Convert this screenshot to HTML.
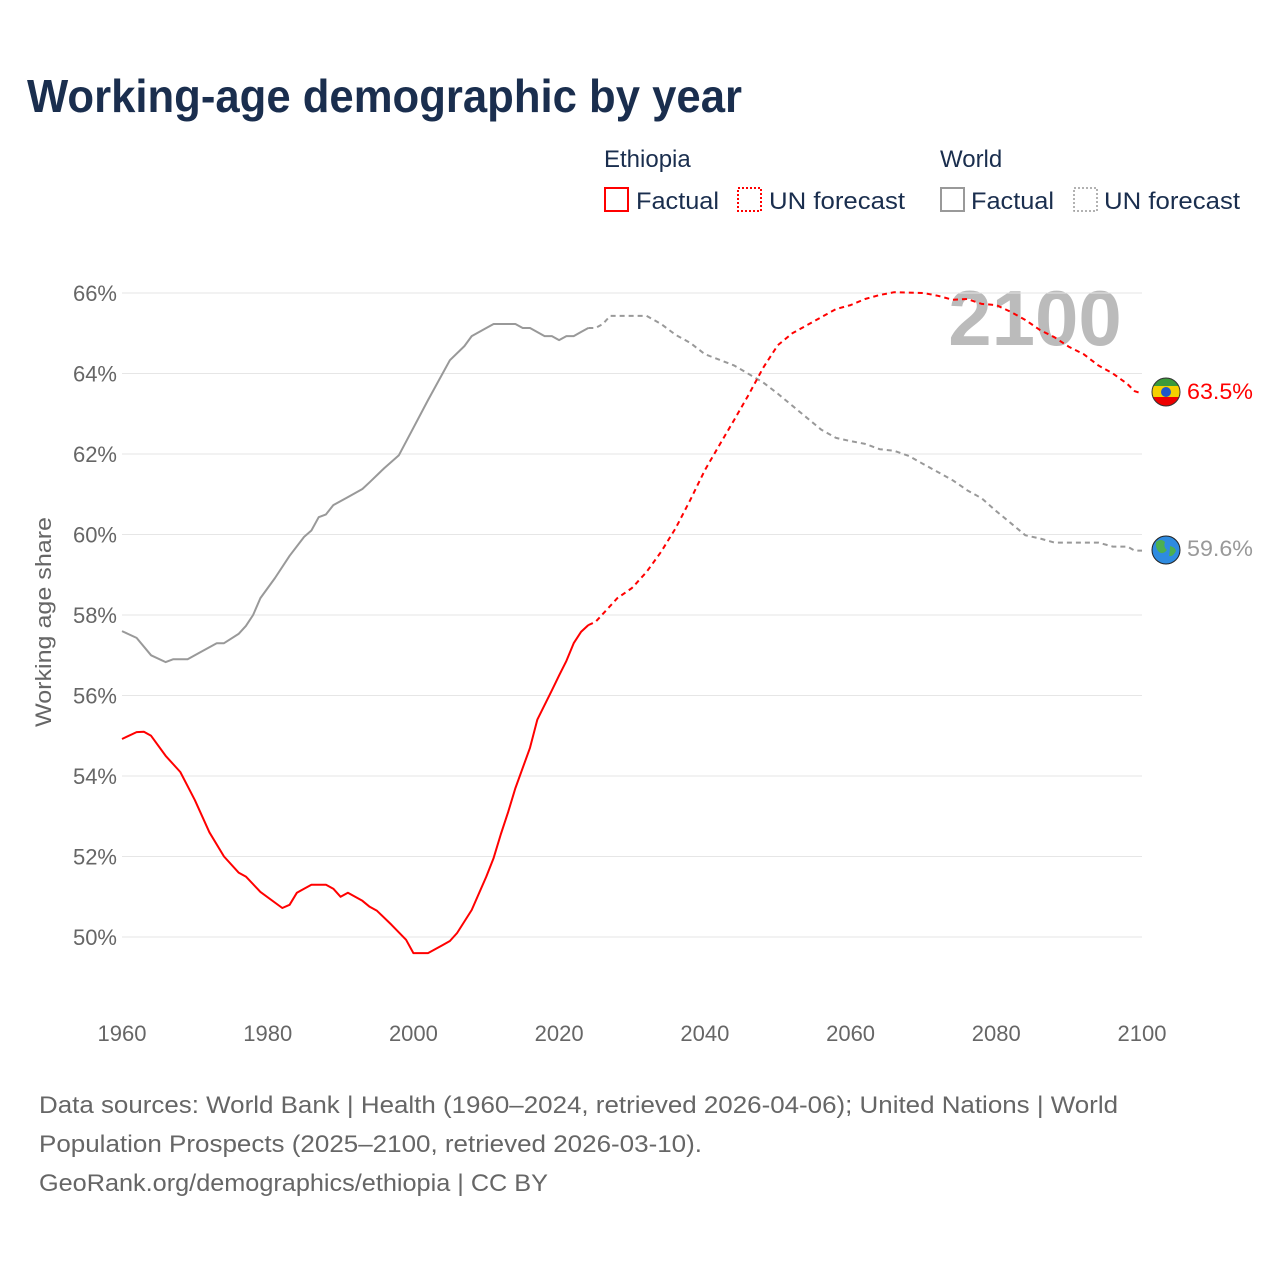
<!DOCTYPE html>
<html><head><meta charset="utf-8"><style>
body{margin:0;background:#fff;width:1280px;height:1280px;overflow:hidden;font-family:"Liberation Sans",sans-serif}
svg{display:block}
</style></head><body>
<svg id="chart" width="1280" height="1280">
<text x="27" y="112" font-size="46" font-weight="bold" fill="#1a2e4e" textLength="715" lengthAdjust="spacingAndGlyphs">Working-age demographic by year</text>
<g font-size="24" fill="#1a2e4e">
<text x="604" y="167">Ethiopia</text>
<text x="940" y="167">World</text>
<rect x="605" y="188" width="23" height="23" fill="none" stroke="#f00" stroke-width="2"/>
<text x="636" y="209" textLength="83" lengthAdjust="spacingAndGlyphs">Factual</text>
<rect x="738" y="188" width="23" height="23" fill="none" stroke="#f00" stroke-width="2" stroke-dasharray="2,2"/>
<text x="769" y="209" textLength="136" lengthAdjust="spacingAndGlyphs">UN forecast</text>
<rect x="941" y="188" width="23" height="23" fill="none" stroke="#999" stroke-width="2"/>
<text x="971" y="209" textLength="83" lengthAdjust="spacingAndGlyphs">Factual</text>
<rect x="1074" y="188" width="23" height="23" fill="none" stroke="#999" stroke-width="1.5" stroke-dasharray="2,2"/>
<text x="1104" y="209" textLength="136" lengthAdjust="spacingAndGlyphs">UN forecast</text>
</g>
<text x="1035" y="345" font-size="78" font-weight="bold" fill="#bbb" text-anchor="middle">2100</text>
<g id="grid"></g><g id="yt"></g><g id="xt"></g><g id="lines"></g>
<text transform="translate(51,622) rotate(-90)" font-size="22" fill="#666" text-anchor="middle" textLength="210" lengthAdjust="spacingAndGlyphs">Working age share</text>
<g>
<clipPath id="c1"><circle cx="1166" cy="392" r="14"/></clipPath>
<g clip-path="url(#c1)"><rect x="1150" y="376" width="32" height="10" fill="#3a9a3a"/><rect x="1150" y="386" width="32" height="11" fill="#f5d000"/><rect x="1150" y="397" width="32" height="12" fill="#e00"/></g>
<circle cx="1166" cy="392" r="5" fill="#1e56c8"/><circle cx="1166" cy="392" r="14" fill="none" stroke="#333" stroke-width="1"/>
</g>
<g>
<circle cx="1166" cy="550" r="14" fill="#2e8be0" stroke="#222" stroke-width="1"/>
<path d="M1156 542 q5-4 9 0 q-2 5 2 8 q-4 5-8 2 q-4-4-3-10z M1170 546 q5 1 6 5 q-3 6-7 5 q1-5 1-10z" fill="#4caf50"/>
</g>
<text x="1187" y="399" font-size="22" fill="#f00" textLength="66" lengthAdjust="spacingAndGlyphs">63.5%</text>
<text x="1187" y="556" font-size="22" fill="#999" textLength="66" lengthAdjust="spacingAndGlyphs">59.6%</text>
<g font-size="24" fill="#666">
<text x="39" y="1113" textLength="1079" lengthAdjust="spacingAndGlyphs">Data sources: World Bank | Health (1960–2024, retrieved 2026-04-06); United Nations | World</text>
<text x="39" y="1152" textLength="663" lengthAdjust="spacingAndGlyphs">Population Prospects (2025–2100, retrieved 2026-03-10).</text>
<text x="39" y="1191" textLength="509" lengthAdjust="spacingAndGlyphs">GeoRank.org/demographics/ethiopia | CC BY</text>
</g>
</svg>
<script>
const yTicks=[50,52,54,56,58,60,62,64,66];
const xTicks=[1960,1980,2000,2020,2040,2060,2080,2100];
const ethYearsF=[1960,1962,1963,1964,1966,1968,1969,1970,1972,1974,1976,1977,1979,1982,1983,1984,1986,1988,1989,1990,1991,1993,1994,1995,1997,1999,2000,2002,2004,2005,2006,2008,2010,2011,2012,2013,2014,2016,2017,2019,2020,2021,2022,2023,2024];
const ethValsF=[54.92,55.09,55.1,55.0,54.5,54.1,53.75,53.4,52.6,52.0,51.6,51.5,51.12,50.72,50.8,51.1,51.3,51.3,51.2,51.0,51.1,50.9,50.75,50.65,50.3,49.93,49.6,49.6,49.8,49.9,50.1,50.67,51.5,51.96,52.56,53.1,53.7,54.7,55.4,56.13,56.5,56.86,57.3,57.58,57.75];
const ethYearsP=[2024,2025,2027,2028,2030,2032,2034,2036,2038,2040,2042,2044,2046,2048,2050,2052,2054,2056,2058,2060,2062,2064,2066,2070,2072,2074,2076,2078,2080,2082,2084,2086,2088,2090,2092,2094,2096,2098,2099,2100];
const ethValsP=[57.75,57.83,58.22,58.42,58.67,59.07,59.57,60.16,60.86,61.6,62.22,62.84,63.47,64.14,64.7,65.0,65.2,65.4,65.6,65.7,65.85,65.95,66.02,66.0,65.93,65.83,65.85,65.73,65.7,65.53,65.33,65.08,64.9,64.66,64.48,64.2,64.0,63.74,63.56,63.5];
const wYearsF=[1960,1962,1964,1966,1967,1969,1971,1973,1974,1976,1977,1978,1979,1981,1983,1985,1986,1987,1988,1989,1991,1993,1994,1996,1998,2000,2002,2004,2005,2007,2008,2010,2011,2014,2015,2016,2018,2019,2020,2021,2022,2023,2024];
const wValsF=[57.6,57.43,57.0,56.83,56.9,56.9,57.1,57.3,57.3,57.53,57.73,58.0,58.42,58.92,59.47,59.94,60.1,60.43,60.5,60.73,60.93,61.13,61.3,61.65,61.97,62.65,63.34,64.0,64.33,64.68,64.93,65.13,65.23,65.23,65.13,65.13,64.93,64.93,64.83,64.93,64.93,65.03,65.13];
const wYearsP=[2024,2025,2026,2027,2032,2034,2036,2038,2040,2044,2048,2050,2052,2054,2056,2058,2060,2062,2064,2066,2068,2070,2072,2074,2076,2078,2080,2082,2084,2086,2088,2094,2096,2098,2099,2100];
const wValsP=[65.13,65.13,65.23,65.43,65.43,65.23,64.96,64.76,64.48,64.2,63.78,63.5,63.2,62.9,62.6,62.4,62.32,62.25,62.12,62.08,61.95,61.75,61.55,61.35,61.1,60.9,60.58,60.28,59.98,59.9,59.8,59.8,59.7,59.7,59.6,59.6];

const NS='http://www.w3.org/2000/svg';
const xs=y=>122+(y-1960)*(1020/140);
const ys=v=>293+(66-v)*40.25;
function mk(t,p,a){const e=document.createElementNS(NS,t);for(const k in a)e.setAttribute(k,a[k]);p.appendChild(e);return e;}
const grid=document.getElementById('grid'),yt=document.getElementById('yt'),xt=document.getElementById('xt'),lines=document.getElementById('lines');
yTicks.forEach(v=>{
  const l=mk('line',grid,{x1:122,x2:1142,y1:ys(v),y2:ys(v),stroke:'#e6e6e6','stroke-width':1});
  
  
  const t=mk('text',yt,{x:117,y:ys(v)+8,'font-size':22,fill:'#666','text-anchor':'end'});
  t.textContent=v+'%';
  
  
});
xTicks.forEach(v=>{
  const t=mk('text',xt,{x:xs(v),y:1041,'font-size':22,fill:'#666','text-anchor':'middle'});
  t.textContent=v;
  
  
});
function line(ys_,vs,color,dash,name){
  const d=ys_.map((y,i)=>(i?'L':'M')+xs(y).toFixed(1)+' '+ys(vs[i]).toFixed(1)).join(' ');
  const p=mk('path',lines,{d:d,fill:'none',stroke:color,'stroke-width':2,'stroke-linejoin':'round'});
  if(dash)p.setAttribute('stroke-dasharray',dash);
  
  
}
line(wYearsF,wValsF,'#999',null,'world-factual-line');
line(wYearsP,wValsP,'#999','5,4','world-forecast-line');
line(ethYearsF,ethValsF,'#f00',null,'ethiopia-factual-line');
line(ethYearsP,ethValsP,'#f00','5,4','ethiopia-forecast-line');
</script>
</body></html>
